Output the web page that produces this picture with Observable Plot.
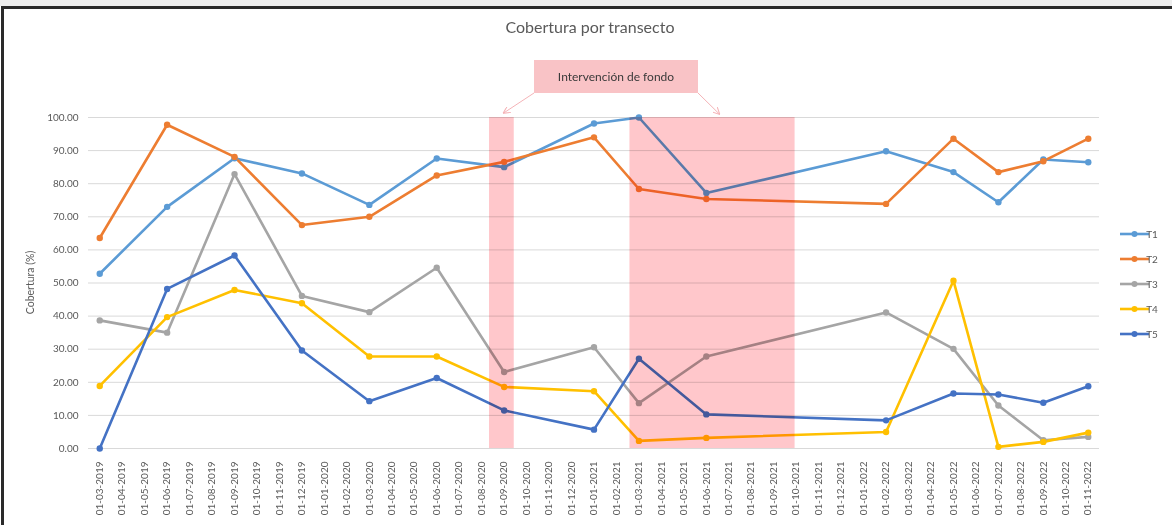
<!DOCTYPE html>
<html>
<head>
<meta charset="utf-8">
<script src="https://cdn.jsdelivr.net/npm/d3@7"></script>
<script src="https://cdn.jsdelivr.net/npm/@observablehq/plot@0.6"></script>
<style>
  html, body { margin: 0; padding: 0; background: #fff; }
  #wrap { position: relative; width: 1172px; height: 525px; overflow: hidden; font-family: Lato, "Open Sans", sans-serif; }
  #strip { position: absolute; left: 0; top: 0; width: 1172px; height: 6px; background: #eeeeee; }
  #frame { position: absolute; left: 1px; top: 6px; width: 1180px; height: 530px; border-top: 3px solid #2a2a2a; border-left: 3px solid #2a2a2a; pointer-events: none; }
</style>
</head>
<body>
<div id="wrap"><div id="strip"></div><div id="chart"></div><div id="frame"></div></div>
<script>
// ---- data ----
const axisLabels = [
  "01-03-2019","01-04-2019","01-05-2019","01-06-2019","01-07-2019","01-08-2019","01-09-2019","01-10-2019","01-11-2019","01-12-2019",
  "01-01-2020","01-02-2020","01-03-2020","01-04-2020","01-05-2020","01-06-2020","01-07-2020","01-08-2020","01-09-2020","01-10-2020",
  "01-11-2020","01-12-2020","01-01-2021","01-02-2021","01-03-2021","01-04-2021","01-05-2021","01-06-2021","01-07-2021","01-08-2021",
  "01-09-2021","01-10-2021","01-11-2021","01-12-2021","01-01-2022","01-02-2022","01-03-2022","01-04-2022","01-05-2022","01-06-2022",
  "01-07-2022","01-08-2022","01-09-2022","01-10-2022","01-11-2022"
];
const sampleDates = [
  "01-03-2019","01-06-2019","01-09-2019","01-12-2019","01-03-2020","01-06-2020","01-09-2020","01-01-2021",
  "01-03-2021","01-06-2021","01-02-2022","01-05-2022","01-07-2022","01-09-2022","01-11-2022"
];
const seriesNames = ["T1","T2","T3","T4","T5"];
const T1 = [52.8, 73.0, 87.7, 83.1, 73.6, 87.6, 85.0, 98.2, 100.0, 77.2, 89.8, 83.5, 74.4, 87.3, 86.5];
const T2 = [63.6, 97.8, 88.1, 67.5, 70.0, 82.5, 86.6, 94.0, 78.4, 75.4, 73.9, 93.6, 83.5, 86.8, 93.6];
const T3 = [38.7, 35.0, 82.9, 46.1, 41.2, 54.6, 23.1, 30.6, 13.7, 27.8, 41.1, 30.1, 13.0, 2.5, 3.5];
const T4 = [18.9, 39.7, 47.9, 43.9, 27.8, 27.8, 18.6, 17.3, 2.3, 3.2, 5.0, 50.7, 0.5, 2.0, 4.8];
const T5 = [0.0, 48.2, 58.3, 29.6, 14.3, 21.3, 11.5, 5.7, 27.1, 10.3, 8.5, 16.6, 16.3, 13.8, 18.8];
const seriesColors = ["#5B9BD5", "#ED7D31", "#A5A5A5", "#FFC000", "#4472C4"];
const yTicks = [0, 10, 20, 30, 40, 50, 60, 70, 80, 90, 100];
const interventionFrom = ["01-09-2020", "01-03-2021"];
const interventionTo = ["01-09-2020", "01-10-2021"];
const titleText = "Cobertura por transecto";
const yLabelText = "Cobertura (%)";
const annotationText = "Intervención de fondo";

// ---- build table ----
const idx = d => axisLabels.indexOf(d);
const allSeries = [T1, T2, T3, T4, T5];
const rows = [];
seriesNames.forEach((s, k) => {
  sampleDates.forEach((d, i) => rows.push({series: s, x: idx(d), value: allSeries[k][i]}));
});
const bands = interventionFrom.map((f, i) => ({
  x1: idx(f) - (i === 0 ? 0.65 : 0.4),
  x2: idx(interventionTo[i]) + (i === 0 ? 0.45 : -0.05)
}));

const txt = "#595959";
const chart = Plot.plot({
  width: 1172,
  height: 525,
  marginLeft: 88,
  marginRight: 73,
  marginTop: 117,
  marginBottom: 77,
  style: {fontFamily: "Lato, 'Open Sans', sans-serif", background: "transparent", overflow: "visible"},
  x: {type: "linear", domain: [-0.5, 44.5]},
  y: {domain: [0, 100]},
  color: {domain: seriesNames, range: seriesColors},
  marks: [
    Plot.ruleY(yTicks, {stroke: "#d9d9d9", strokeWidth: 1}),
    Plot.axisY(yTicks, {tickFormat: d => d.toFixed(2), tickSize: 0, tickPadding: 10, fontSize: 10, fill: txt, label: null}),
    Plot.axisX(d3.range(axisLabels.length), {tickFormat: i => axisLabels[i], tickRotate: -90, tickSize: 0, tickPadding: 13, fontSize: 10, fill: txt, label: null}),
    Plot.line(rows, {x: "x", y: "value", z: "series", stroke: "series", strokeWidth: 2.6, curve: "linear"}),
    Plot.dot(rows, {x: "x", y: "value", fill: "series", r: 3.2}),
    Plot.rectY(bands, {x1: "x1", x2: "x2", y1: 0, y2: 100, fill: "#FFC7CB", mixBlendMode: "multiply"})
  ]
});
document.getElementById("chart").appendChild(chart);

const svg = d3.select(chart);
const xs = chart.scale("x"), ys = chart.scale("y");
const X = v => xs.apply(v), Y = v => ys.apply(v);

// title
svg.append("text").attr("x", 590).attr("y", 33).attr("text-anchor", "middle")
  .attr("font-size", 16).attr("fill", txt).text(titleText);

// y label
svg.append("text").attr("transform", `translate(34,${(Y(0) + Y(100)) / 2}) rotate(-90)`)
  .attr("text-anchor", "middle").attr("font-size", 10.5).attr("fill", txt).text(yLabelText);

// annotation box + arrows
const bx1 = 534, bx2 = 698, by1 = 60, by2 = 93;
svg.append("rect").attr("x", bx1).attr("y", by1).attr("width", bx2 - bx1).attr("height", by2 - by1).attr("fill", "#F9C3C6");
svg.append("text").attr("x", (bx1 + bx2) / 2).attr("y", (by1 + by2) / 2 + 4).attr("text-anchor", "middle")
  .attr("font-size", 12).attr("fill", "#3a3a3a").text(annotationText);
const defs = svg.append("defs");
defs.append("marker").attr("id", "arr").attr("viewBox", "0 0 10 10").attr("refX", 9).attr("refY", 5)
  .attr("markerWidth", 7).attr("markerHeight", 7).attr("orient", "auto-start-reverse")
  .append("path").attr("d", "M0,0 L10,5 L0,10").attr("fill", "none").attr("stroke", "#F4B3B7").attr("stroke-width", 1.5);
svg.append("line").attr("x1", bx1).attr("y1", by2).attr("x2", X(18)).attr("y2", Y(100) - 4)
  .attr("stroke", "#F4B3B7").attr("stroke-width", 1).attr("marker-end", "url(#arr)");
svg.append("line").attr("x1", bx2).attr("y1", by2).attr("x2", X(27.6)).attr("y2", Y(100) - 3)
  .attr("stroke", "#F4B3B7").attr("stroke-width", 1).attr("marker-end", "url(#arr)");

// legend
const lg = svg.append("g");
seriesNames.forEach((s, i) => {
  const yy = 234 + i * 25;
  lg.append("line").attr("x1", 1120).attr("x2", 1149).attr("y1", yy).attr("y2", yy)
    .attr("stroke", seriesColors[i]).attr("stroke-width", 2.6);
  lg.append("circle").attr("cx", 1134.5).attr("cy", yy).attr("r", 3).attr("fill", seriesColors[i]);
  lg.append("text").attr("x", 1152).attr("y", yy + 3.5).attr("font-size", 10).attr("fill", txt).text(s);
});
</script>
</body>
</html>
